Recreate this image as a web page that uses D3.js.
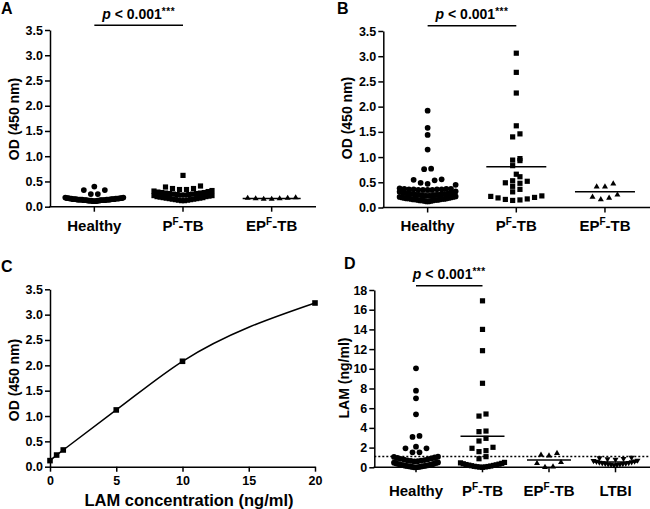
<!DOCTYPE html>
<html><head><meta charset="utf-8">
<script src="https://cdn.jsdelivr.net/npm/d3@7"></script>
<style>
body{margin:0;background:#fff}
svg{display:block;font-family:"Liberation Sans",Arial,sans-serif;font-weight:bold}
</style></head><body>
<svg id="c" width="650" height="509"></svg>
<script>
// ---------- categories & ticks ----------
const groups3 = ["Healthy","PF-TB","EPF-TB"];
const groups4 = ["Healthy","PF-TB","EPF-TB","LTBI"];
const odTicks = [0,0.5,1,1.5,2,2.5,3,3.5];
const lamTicks = [0,2,4,6,8,10,12,14,16,18];
const concTicks = [0,5,10,15,20];
const pText = "p < 0.001";
const pStars = "***";

// ---------- Panel A : OD (450 nm) ----------
const aHealthy = [0.11,0.11,0.11,0.12,0.12,0.12,0.12,0.12,0.13,0.13,0.13,0.13,0.13,0.13,0.13,0.14,0.14,0.14,0.14,0.14,0.14,0.14,0.15,0.15,0.15,0.15,0.15,0.15,0.16,0.16,0.16,0.16,0.16,0.17,0.17,0.17,0.17,0.18,0.18,0.25,0.25,0.33,0.33,0.40];
const aPF = [0.12,0.12,0.13,0.13,0.14,0.14,0.15,0.15,0.16,0.16,0.17,0.17,0.18,0.18,0.19,0.20,0.20,0.21,0.22,0.22,0.23,0.23,0.24,0.24,0.25,0.25,0.26,0.26,0.27,0.27,0.28,0.28,0.29,0.30,0.31,0.32,0.34,0.34,0.36,0.36,0.39,0.41,0.62];
const aEPF = [0.15,0.15,0.16,0.16,0.17,0.17,0.18];
const aLines = [0.14,0.22,0.16];

// ---------- Panel B : OD (450 nm) ----------
const bHealthy = [0.12,0.12,0.13,0.13,0.14,0.14,0.14,0.15,0.15,0.15,0.16,0.16,0.16,0.17,0.17,0.17,0.18,0.18,0.18,0.19,0.19,0.20,0.20,0.21,0.21,0.22,
  0.23,0.23,0.24,0.24,0.25,0.25,0.26,0.26,0.27,0.27,0.28,0.28,0.29,0.30,0.31,0.32,
  0.35,0.35,0.35,0.35,0.36,0.36,0.36,0.36,0.37,0.37,0.37,0.38,0.45,
  0.47,0.49,0.54,0.55,0.56,0.76,0.77,1.15,1.44,1.58,1.92];
const bPF = [0.14,0.15,0.16,0.17,0.19,0.20,0.22,0.23,0.31,0.36,0.42,0.48,0.49,0.52,0.53,0.61,0.66,0.83,0.93,0.94,0.97,1.40,1.46,1.62,2.27,2.68,3.06];
const bEPF = [0.16,0.19,0.21,0.25,0.41,0.41,0.47];
const bLines = [0.29,0.81,0.31];

// ---------- Panel C : standard curve ----------
const cConc = [0,0.5,1,5,10,20];
const cOD = [0.12,0.23,0.33,1.12,2.08,3.23];

// ---------- Panel D : LAM (ng/ml) ----------
const dHealthy = [0.00,0.00,0.02,0.04,0.05,0.07,0.09,0.10,0.12,0.14,0.15,0.17,0.19,0.21,0.23,0.25,0.27,0.30,0.32,0.35,0.38,0.41,0.44,0.47,0.50,
  0.60,0.62,0.65,0.68,0.70,0.74,0.78,0.82,0.86,0.90,0.95,1.00,1.05,1.08,
  1.52,1.52,1.93,1.93,2.09,3.08,3.18,5.38,7.00,7.78,10.05];
const dPF = [0.00,0.02,0.04,0.06,0.08,0.10,0.13,0.16,0.19,0.22,0.25,0.28,0.32,0.36,0.40,0.45,0.50,
  0.87,1.08,1.59,1.69,1.93,2.03,2.67,2.94,3.62,3.68,5.20,5.41,8.53,11.84,14.00,16.90];
const dEPF = [0.00,0.06,0.40,0.50,1.18,1.25,1.42];
const dLTBI = [0.22,0.25,0.28,0.30,0.32,0.35,0.38,0.40,0.43,0.46,0.50,0.54,0.58,0.62,0.66,0.70,0.80,0.85,0.88,0.95,1.00];
const dLines = [0.74,3.15,0.74,0.55];
const dCutoff = 1.1;

// ---------- helpers ----------
const svg = d3.select("#c");
const TICKFS = 12.5, CATFS = 15, TITLEFS = 14;

function tri(t, up){
  const h = t*Math.sqrt(3)/2, s = up?1:-1;
  return `M0,${-s*2*h/3}L${t/2},${s*h/3}L${-t/2},${s*h/3}Z`;
}
const shapes = {
  circle: d3.symbol(d3.symbolCircle, 26)(),
  square: "M-2.6,-2.6H2.6V2.6H-2.6Z",
  triUp: tri(6, true),
  triDown: tri(6, false)
};

// Prism-like column scatter: rows of symbol height, spread from centre outward
function layout(vals, y, spacing, cap, hPx){
  const sorted = vals.slice().sort((a,b)=>a-b);
  const out = []; let i = 0;
  while(i < sorted.length){
    const start = sorted[i], row = [];
    while(i < sorted.length && (y(start) - y(sorted[i])) < hPx){ row.push(sorted[i]); i++; }
    const n = row.length;
    const s = n > 1 ? Math.min(spacing, 2*cap/(n-1)) : 0;
    const slots = d3.range(n).map(k => (k-(n-1)/2)*s)
      .sort((a,b)=> (Math.round(Math.abs(a)*1000) - Math.round(Math.abs(b)*1000)) || (a-b));
    row.forEach((v,k)=> out.push({v, dx: slots[k]}));
  }
  return out;
}

function catLabel(g, name, x, y){
  const t = g.append("text").attr("x", x).attr("y", y).attr("text-anchor","middle")
    .attr("font-size", CATFS);
  if(name.includes("F-TB")){
    const pre = name.split("F-TB")[0];
    t.append("tspan").text(pre);
    t.append("tspan").attr("font-size",10).attr("dy",-6).text("F");
    t.append("tspan").attr("dy",6).text("-TB");
  } else t.text(name);
}

function styleAxis(g){
  g.selectAll("path,line").attr("stroke","#000").attr("stroke-width",1.5);
  g.selectAll("text").attr("font-size",TICKFS).attr("font-weight","bold")
    .attr("font-family",'"Liberation Sans",Arial,sans-serif').attr("fill","#000");
}

function yTitle(text, x, y){
  svg.append("text").attr("transform",`translate(${x},${y}) rotate(-90)`)
    .attr("text-anchor","middle").attr("dy","0.35em").attr("font-size",TITLEFS).text(text);
}
function letter(t, x, y){
  svg.append("text").attr("x",x).attr("y",y).attr("font-size",16).text(t);
}
function pval(x1, x2, yLine, yText){
  svg.append("line").attr("x1",x1).attr("x2",x2).attr("y1",yLine).attr("y2",yLine)
    .attr("stroke","#000").attr("stroke-width",1.5);
  const t = svg.append("text").attr("x",(x1+x2)/2).attr("y",yText)
    .attr("text-anchor","middle").attr("font-size",14);
  t.append("tspan").attr("font-style","italic").text(pText.slice(0,1));
  t.append("tspan").text(pText.slice(1));
  t.append("tspan").attr("font-size",10).attr("dy",-4).attr("letter-spacing",0.5).text(pStars);
}

function scatterPanel(o){
  const g = svg.append("g");
  const x = d3.scalePoint().domain(o.cats).range(o.xRange).padding(o.pad);
  const y = d3.scaleLinear().domain(o.yDomain).range(o.yRange);
  const ya = g.append("g").attr("transform",`translate(${o.xRange[0]},0)`)
    .call(d3.axisLeft(y).tickValues(o.ticks).tickFormat(o.fmt).tickSize(5).tickPadding(2).tickSizeOuter(0));
  styleAxis(ya);
  g.append("line").attr("x1",o.xRange[0]-0.75).attr("x2",o.xEnd).attr("y1",y(0)).attr("y2",y(0))
    .attr("stroke","#000").attr("stroke-width",1.5);
  o.cats.forEach(c=>{
    g.append("line").attr("x1",x(c)).attr("x2",x(c)).attr("y1",y(0)).attr("y2",y(0)+5)
      .attr("stroke","#000").attr("stroke-width",1.5);
    catLabel(g, c, x(c), o.labelY);
  });
  if(o.cutoff!==undefined){
    g.append("line").attr("x1",o.xRange[0]).attr("x2",o.xEnd).attr("y1",y(o.cutoff)).attr("y2",y(o.cutoff))
      .attr("stroke","#000").attr("stroke-width",1.5).attr("stroke-dasharray","2,2");
  }
  o.cats.forEach((c,i)=>{
    const pts = layout(o.series[i], y, o.spacing[i], o.cap, 5.4);
    g.append("g").selectAll("path").data(pts).join("path")
      .attr("d", shapes[o.shapes[i]])
      .attr("transform", d=>`translate(${x(c)+d.dx},${y(d.v)})`)
      .attr("fill","#000");
    g.append("line").attr("x1",x(c)-o.lineHalf).attr("x2",x(c)+o.lineHalf)
      .attr("y1",y(o.lines[i])).attr("y2",y(o.lines[i])).attr("stroke","#000").attr("stroke-width",1.5);
  });
  return {x,y};
}

// ---------- Panel A ----------
letter("A", 1, 14);
const A = scatterPanel({cats:groups3, xRange:[50,316], pad:0.5, xEnd:316,
  yDomain:[0,3.5], yRange:[206.7,30], ticks:odTicks, fmt:d3.format(".1f"),
  series:[aHealthy,aPF,aEPF], shapes:["circle","square","triUp"], spacing:[7,7,8],
  lines:aLines, lineHalf:29, cap:29, labelY:231});
yTitle("OD (450 nm)", 14, 119);
pval(A.x("Healthy"), A.x("PF-TB"), 25.3, 19);

// ---------- Panel B ----------
letter("B", 337, 14);
const B = scatterPanel({cats:groups3, xRange:[383.3,649.3], pad:0.5, xEnd:650,
  yDomain:[0,3.5], yRange:[207.5,31], ticks:odTicks, fmt:d3.format(".1f"),
  series:[bHealthy,bPF,bEPF], shapes:["circle","square","triUp"], spacing:[7,7.3,8.3],
  lines:bLines, lineHalf:30, cap:28, labelY:231});
yTitle("OD (450 nm)", 347, 118);
pval(B.x("Healthy"), B.x("PF-TB"), 25.7, 19);

// ---------- Panel C ----------
letter("C", 1, 272);
{
  const g = svg.append("g");
  const x = d3.scaleLinear().domain([0,20]).range([50,315]);
  const y = d3.scaleLinear().domain([0,3.5]).range([466.7,289.3]);
  const ya = g.append("g").attr("transform","translate(50,0)")
    .call(d3.axisLeft(y).tickValues(odTicks).tickFormat(d3.format(".1f")).tickSize(5).tickPadding(2).tickSizeOuter(0));
  styleAxis(ya);
  const xa = g.append("g").attr("transform",`translate(0,${y(0)})`)
    .call(d3.axisBottom(x).tickValues(concTicks).tickFormat(d3.format("d")).tickSize(5).tickPadding(4).tickSizeOuter(0));
  styleAxis(xa);
  const pts = cConc.map((c,i)=>[c,cOD[i]]);
  g.append("path").datum(pts)
    .attr("d", d3.line().x(d=>x(d[0])).y(d=>y(d[1])).curve(d3.curveMonotoneX))
    .attr("fill","none").attr("stroke","#000").attr("stroke-width",1.5);
  g.selectAll("path.m").data(pts).join("path").attr("class","m")
    .attr("d","M-2.8,-2.8H2.8V2.8H-2.8Z")
    .attr("transform",d=>`translate(${x(d[0])},${y(d[1])})`).attr("fill","#000");
  g.append("text").attr("x",189).attr("y",506).attr("text-anchor","middle")
    .attr("font-size",16.5).text("LAM concentration (ng/ml)");
}
yTitle("OD (450 nm)", 14, 380);

// ---------- Panel D ----------
letter("D", 344, 269);
const D = scatterPanel({cats:groups4, xRange:[374.3,657.2], pad:0.627, xEnd:650,
  yDomain:[0,18], yRange:[467.3,290], ticks:lamTicks, fmt:d3.format("d"),
  series:[dHealthy,dPF,dEPF,dLTBI], shapes:["circle","square","triUp","triDown"], spacing:[7,7,8,8],
  lines:dLines, lineHalf:22, cap:22, labelY:496, cutoff:dCutoff});
yTitle("LAM (ng/ml)", 344, 378);
pval(D.x("Healthy"), D.x("PF-TB"), 285.7, 278.5);
</script>
</body></html>
